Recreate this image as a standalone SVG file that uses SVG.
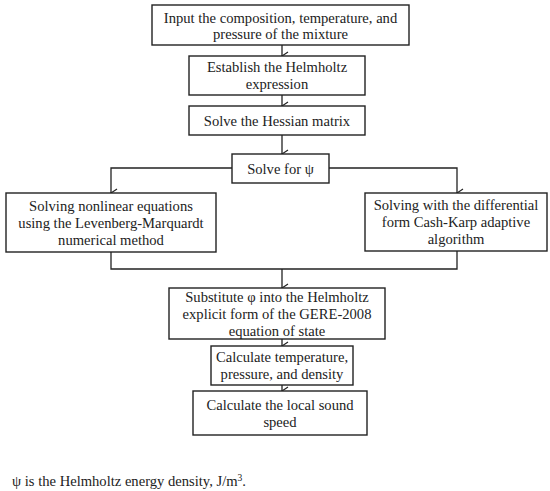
<svg xmlns="http://www.w3.org/2000/svg" width="550" height="491" viewBox="0 0 550 491">
<defs>
<marker id="ah" viewBox="0 0 10 10" refX="5" refY="9" markerWidth="10" markerHeight="10" markerUnits="userSpaceOnUse" orient="auto-start-reverse">
<path d="M1,3 L5,9 L9,3" fill="none" stroke="#222" stroke-width="1.2"/>
</marker>
</defs>
<style>
rect{fill:#fff;stroke:#222;stroke-width:1.4}
text{font-size:14.6px;fill:#222;text-anchor:middle}
.c{fill:none;stroke:#222;stroke-width:1.3}
.a{marker-end:url(#ah)}
</style>
<rect x="0" y="0" width="550" height="491" style="fill:#fff;stroke:none"/>
<g id="connectors">
<path class="c a" d="M282,45 V56"/>
<path class="c a" d="M282,95 V106"/>
<path class="c a" d="M282,135 V154"/>
<path class="c a" d="M232,168 H111 V193"/>
<path class="c a" d="M329,168 H457 V193"/>
<path class="c" d="M111,252 V269 H457 V251"/>
<path class="c a" d="M282,269 V288"/>
<path class="c a" d="M282,339 V346"/>
<path class="c a" d="M282,385 V391"/>
</g>
<g font-family="'Liberation Serif', 'DejaVu Serif', serif">
<g id="n1"><rect x="152" y="5" width="257" height="40"/><text x="280.5" y="22.5">Input the composition, temperature, and</text><text x="280.5" y="39">pressure of the mixture</text></g>
<g id="n2"><rect x="189" y="56" width="176" height="39"/><text x="277" y="72">Establish the Helmholtz</text><text x="277" y="89">expression</text></g>
<g id="n3"><rect x="189" y="106" width="176" height="29"/><text x="277" y="125.5">Solve the Hessian matrix</text></g>
<g id="n4"><rect x="232" y="154" width="97" height="29"/><text x="280.5" y="173.5">Solve for ψ</text></g>
<g id="n5"><rect x="6" y="193" width="210" height="59"/><text x="111" y="210.5">Solving nonlinear equations</text><text x="111" y="227.5">using the Levenberg-Marquardt</text><text x="111" y="244.5">numerical method</text></g>
<g id="n6"><rect x="365" y="193" width="182" height="58"/><text x="456" y="210">Solving with the differential</text><text x="456" y="227">form Cash-Karp adaptive</text><text x="456" y="244">algorithm</text></g>
<g id="n7"><rect x="169" y="288" width="216" height="51"/><text x="277" y="302">Substitute φ into the Helmholtz</text><text x="277" y="319">explicit form of the GERE-2008</text><text x="277" y="336">equation of state</text></g>
<g id="n8"><rect x="211" y="346" width="142" height="39"/><text x="282" y="362">Calculate temperature,</text><text x="282" y="379">pressure, and density</text></g>
<g id="n9"><rect x="193" y="391" width="174" height="44"/><text x="280" y="409.5">Calculate the local sound</text><text x="280" y="426.5">speed</text></g>
<text x="12" y="486" text-anchor="start" style="text-anchor:start">ψ is the Helmholtz energy density, J/m<tspan font-size="9.5" dy="-5">3</tspan><tspan dy="5">.</tspan></text>
</g>
</svg>
